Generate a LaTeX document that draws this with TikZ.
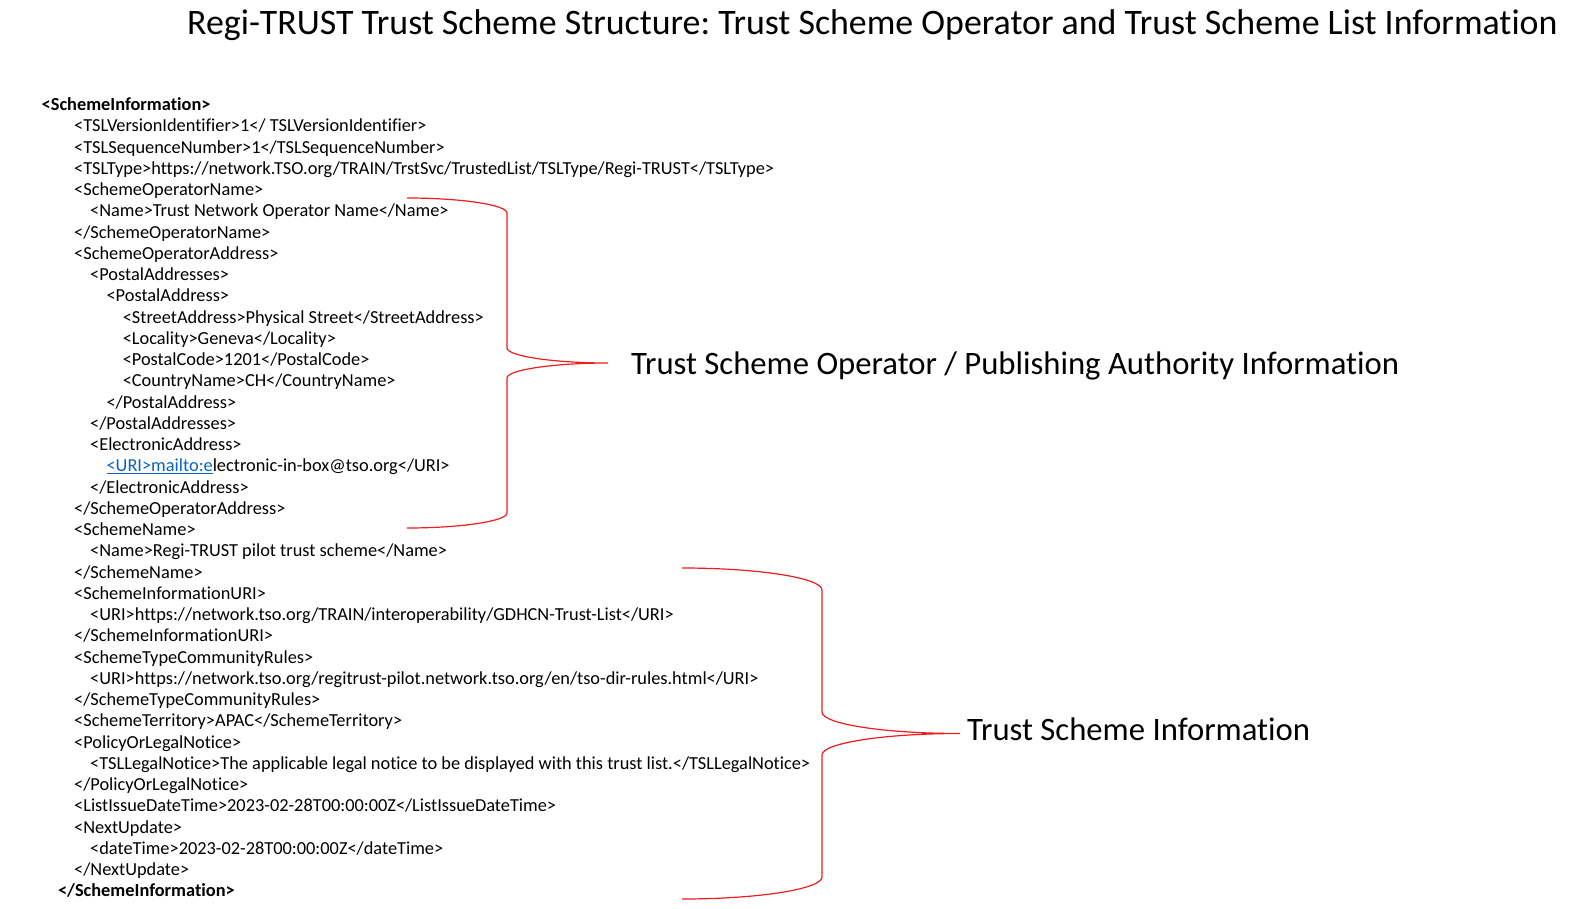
\documentclass[tikz,border=0pt]{standalone}
\usepackage{fontspec}
\setmainfont{Carlito}[Ligatures={NoCommon}]
\definecolor{linkblue}{HTML}{0563C1}
\definecolor{bracered}{HTML}{EE1C1C}
\newcommand\codeline[3]{\node[codetext] (l#1) at (#2,{-110.7-21.25*(#1-1)}) {#3};}
\frenchspacing
\begin{document}
\begin{tikzpicture}[x=1pt,y=1pt,
  codetext/.style={inner sep=0pt,anchor=base west,font=\fontsize{18.35}{21}\selectfont},
  labeltext/.style={inner sep=0pt,anchor=base west,font=\fontsize{32.7}{38}\selectfont},
  bracepath/.style={draw=bracered,line width=1.2pt}]
\useasboundingbox (0,0) rectangle (1589,-909);
\node[inner sep=0pt,anchor=base west,font=\fontsize{35.85}{40}\selectfont] (title) at (187,-35)
  {Regi-TRUST Trust Scheme Structure: Trust Scheme Operator and Trust Scheme List Information};
\codeline{1}{41.5}{\bfseries <SchemeInformation>}
\codeline{2}{74}{<TSLVersionIdentifier>1</ TSLVersionIdentifier>}
\codeline{3}{74}{<TSLSequenceNumber>1</TSLSequenceNumber>}
\codeline{4}{74}{<TSLType>https://network.TSO.org/TRAIN/TrstSvc/TrustedList/TSLType/Regi-TRUST</TSLType>}
\codeline{5}{74}{<SchemeOperatorName>}
\codeline{6}{90}{<Name>Trust Network Operator Name</Name>}
\codeline{7}{74}{</SchemeOperatorName>}
\codeline{8}{74}{<SchemeOperatorAddress>}
\codeline{9}{90}{<PostalAddresses>}
\codeline{10}{106.4}{<PostalAddress>}
\codeline{11}{122.6}{<StreetAddress>Physical Street</StreetAddress>}
\codeline{12}{122.6}{<Locality>Geneva</Locality>}
\codeline{13}{122.6}{<PostalCode>1201</PostalCode>}
\codeline{14}{122.6}{<CountryName>CH</CountryName>}
\codeline{15}{106.4}{</PostalAddress>}
\codeline{16}{90}{</PostalAddresses>}
\codeline{17}{90}{<ElectronicAddress>}
\codeline{18}{106.4}{\textcolor{linkblue}{\underline{<URI>mailto:e}}lectronic-in-box@tso.org</URI>}
\codeline{19}{90}{</ElectronicAddress>}
\codeline{20}{74}{</SchemeOperatorAddress>}
\codeline{21}{74}{<SchemeName>}
\codeline{22}{90}{<Name>Regi-TRUST pilot trust scheme</Name>}
\codeline{23}{74}{</SchemeName>}
\codeline{24}{74}{<SchemeInformationURI>}
\codeline{25}{90}{<URI>https://network.tso.org/TRAIN/interoperability/GDHCN-Trust-List</URI>}
\codeline{26}{74}{</SchemeInformationURI>}
\codeline{27}{74}{<SchemeTypeCommunityRules>}
\codeline{28}{90}{<URI>https://network.tso.org/regitrust-pilot.network.tso.org/en/tso-dir-rules.html</URI>}
\codeline{29}{74}{</SchemeTypeCommunityRules>}
\codeline{30}{74}{<SchemeTerritory>APAC</SchemeTerritory>}
\codeline{31}{74}{<PolicyOrLegalNotice>}
\codeline{32}{90}{<TSLLegalNotice>The applicable legal notice to be displayed with this trust list.</TSLLegalNotice>}
\codeline{33}{74}{</PolicyOrLegalNotice>}
\codeline{34}{74}{<ListIssueDateTime>2023-02-28T00:00:00Z</ListIssueDateTime>}
\codeline{35}{74}{<NextUpdate>}
\codeline{36}{90}{<dateTime>2023-02-28T00:00:00Z</dateTime>}
\codeline{37}{74}{</NextUpdate>}
\codeline{38}{57.8}{\bfseries </SchemeInformation>}
% brace 1
\coordinate (b1top) at (407,-198);
\coordinate (b1tip) at (608,-363);
\coordinate (b1bot) at (407,-528);
\draw[bracepath] (b1top) .. controls (462,-198) and (507,-205) .. (507,-213)
  -- (507,-348) .. controls (507,-356) and (553,-363) .. (b1tip)
  .. controls (553,-363) and (507,-370) .. (507,-378)
  -- (507,-513) .. controls (507,-521) and (462,-528) .. (b1bot);
\node[labeltext] (lab1) at (631,-374) {Trust Scheme Operator / Publishing Authority Information};
% brace 2
\coordinate (b2top) at (682,-568);
\coordinate (b2tip) at (960,-733.5);
\coordinate (b2bot) at (682,-899);
\draw[bracepath] (b2top) .. controls (759,-568) and (822,-578) .. (822,-590)
  -- (822,-712) .. controls (822,-724) and (884,-733.5) .. (b2tip)
  .. controls (884,-733.5) and (822,-743) .. (822,-755)
  -- (822,-877) .. controls (822,-889) and (759,-899) .. (b2bot);
\node[labeltext] (lab2) at (967,-740.5) {Trust Scheme Information};
\end{tikzpicture}
\end{document}
